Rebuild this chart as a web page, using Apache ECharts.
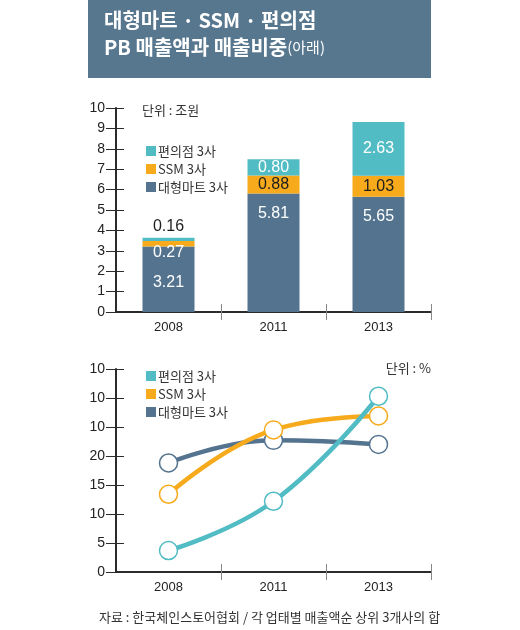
<!DOCTYPE html>
<html>
<head>
<meta charset="utf-8">
<script src="https://cdn.jsdelivr.net/npm/echarts@6/dist/echarts.min.js"></script>
<style>
  html, body { margin: 0; padding: 0; background: #fff; }
  #chart { width: 520px; height: 630px; }
</style>
</head>
<body>
<div id="chart"></div>
<script>
var categories = ['2008', '2011', '2013'];
// 매출액 (조원)
var martSales = [3.21, 5.81, 5.65];
var ssmSales = [0.27, 0.88, 1.03];
var convSales = [0.16, 0.80, 2.63];
// 매출비중 (%)
var martShare = [18.8, 22.7, 22.0];
var ssmShare = [13.4, 24.5, 26.9];
var convShare = [3.7, 12.2, 30.3];
// 아래 차트 눈금 글자 (원본 그대로)
var shareTickLabels = ['0', '5', '10', '15', '20', '10', '10', '10'];

var fontsty = '"Liberation Sans", "Noto Sans CJK KR", sans-serif';
var krfont = '"Noto Sans CJK KR", sans-serif';
var cMart = '#53738f';
var cSsm = '#f6aa1c';
var cConv = '#52bcc4';
var axisCol = '#2b2b2b';

var myChart = echarts.init(document.getElementById('chart'));

function valueAxis(grid, max, interval, labels) {
  return {
    type: 'value',
    gridIndex: grid,
    position: 'left',
    min: 0,
    max: max,
    interval: interval,
    splitLine: { show: false },
    axisLine: { show: true, lineStyle: { color: axisCol, width: 2 } },
    axisTick: { show: true, length: 10, lineStyle: { color: axisCol, width: 1 } },
    axisLabel: {
      color: '#222',
      fontSize: 14,
      fontFamily: fontsty,
      margin: 11,
      formatter: function (v) {
        if (labels) return labels[Math.round(v / interval)];
        return v;
      }
    }
  };
}
function innerValueAxis(grid, max, interval) {
  return {
    type: 'value',
    gridIndex: grid,
    position: 'left',
    min: 0,
    max: max,
    interval: interval,
    splitLine: { show: false },
    axisLine: { show: false },
    axisTick: { show: true, inside: true, length: 8, lineStyle: { color: axisCol, width: 1 } },
    axisLabel: { show: false }
  };
}
function catAxis(grid, inner) {
  return {
    type: 'category',
    gridIndex: grid,
    position: 'bottom',
    data: categories,
    axisLine: { show: !inner, lineStyle: { color: axisCol, width: 2 } },
    axisTick: {
      show: true,
      inside: inner,
      length: 8,
      interval: function (idx) { return idx > 0; },
      lineStyle: { color: '#888', width: 1 }
    },
    axisLabel: {
      show: !inner,
      color: '#222',
      fontSize: 13,
      fontFamily: fontsty,
      margin: 9
    }
  };
}

function legendData() {
  return [
    { name: '편의점 3사', itemStyle: { color: cConv, borderWidth: 0 } },
    { name: 'SSM 3사', itemStyle: { color: cSsm, borderWidth: 0 } },
    { name: '대형마트 3사', itemStyle: { color: cMart, borderWidth: 0 } }
  ];
}
function legendAt(top) {
  return {
    orient: 'vertical',
    left: 141,
    top: top,
    icon: 'rect',
    itemWidth: 10,
    itemHeight: 10,
    itemGap: 4,
    selectedMode: false,
    data: legendData(),
    textStyle: { fontSize: 13, fontFamily: krfont, color: '#333', padding: [0, 0, 0, -3], lineHeight: 14 }
  };
}

function barData(vals, first) {
  return vals.map(function (v, i) {
    if (i === 0 && first) return { value: v, label: first };
    return v;
  });
}

function lineSeries(name, vals, color) {
  return {
    name: name,
    type: 'line',
    xAxisIndex: 2,
    yAxisIndex: 2,
    data: vals,
    smooth: 0.45,
    symbol: 'circle',
    symbolSize: 18,
    lineStyle: { color: color, width: 4.5 },
    itemStyle: { color: '#fff', borderColor: color, borderWidth: 1.5 },
    z: 3
  };
}

var option = {
  animation: false,
  textStyle: { fontFamily: fontsty },
  graphic: [
    { type: 'rect', shape: { x: 88, y: 0, width: 343, height: 78 }, style: { fill: '#57778f' } },
    {
      type: 'text', left: 104, top: 10,
      style: { text: '대형마트 · SSM · 편의점', fill: '#fff', font: 'bold 20px ' + krfont }
    },
    {
      type: 'text', left: 104, top: 37,
      style: {
        text: '{a|PB 매출액과 매출비중}{b|(아래)}',
        fill: '#fff',
        rich: {
          a: { fontSize: 20, fontWeight: 'bold', fontFamily: krfont, color: '#fff' },
          b: { fontSize: 15, fontFamily: krfont, color: '#fff' }
        }
      }
    },
    {
      type: 'text', left: 142, top: 104,
      style: { text: '단위 : 조원', fill: '#333', font: '13px ' + krfont }
    },
    {
      type: 'text', right: 89, top: 362,
      style: { text: '단위 : %', fill: '#333', font: '13px ' + krfont }
    },
    {
      type: 'text', left: 99, top: 611,
      style: { text: '자료 : 한국체인스토어협회 / 각 업태별 매출액순 상위 3개사의 합', fill: '#333', font: '13px ' + krfont }
    }
  ],
  legend: [legendAt(139), legendAt(364)],
  grid: [
    { left: 116, right: 89, top: 108, bottom: 318 },
    { left: 116, right: 89, top: 369, bottom: 58 }
  ],
  xAxis: [catAxis(0, false), catAxis(0, true), catAxis(1, false), catAxis(1, true)],
  yAxis: [
    valueAxis(0, 10, 1, null),
    innerValueAxis(0, 10, 1),
    valueAxis(1, 35, 5, shareTickLabels),
    innerValueAxis(1, 35, 5)
  ],
  series: [
    {
      name: '대형마트 3사', type: 'bar', stack: 'sales', barWidth: 52,
      xAxisIndex: 0, yAxisIndex: 0,
      itemStyle: { color: cMart },
      label: { show: true, position: 'insideTop', distance: 12, color: '#fff', fontSize: 16, fontFamily: fontsty },
      data: barData(martSales, { position: 'inside', offset: [0, 3] })
    },
    {
      name: 'SSM 3사', type: 'bar', stack: 'sales', barWidth: 52,
      xAxisIndex: 0, yAxisIndex: 0,
      itemStyle: { color: cSsm },
      label: { show: true, position: 'inside', color: '#1e1e1e', fontSize: 16, fontFamily: fontsty },
      data: barData(ssmSales, { position: 'inside', offset: [0, 9], color: '#fff' })
    },
    {
      name: '편의점 3사', type: 'bar', stack: 'sales', barWidth: 52,
      xAxisIndex: 0, yAxisIndex: 0,
      itemStyle: { color: cConv },
      label: { show: true, position: 'inside', color: '#fff', fontSize: 16, fontFamily: fontsty },
      data: barData(convSales, { position: 'top', distance: 3, color: '#1e1e1e' })
    },
    lineSeries('대형마트 3사', martShare, cMart),
    lineSeries('SSM 3사', ssmShare, cSsm),
    lineSeries('편의점 3사', convShare, cConv)
  ]
};
// bar labels keep two decimals
option.series.slice(0, 3).forEach(function (s) {
  s.label.formatter = function (p) { return p.value.toFixed(2); };
});
myChart.setOption(option);
</script>
</body>
</html>
